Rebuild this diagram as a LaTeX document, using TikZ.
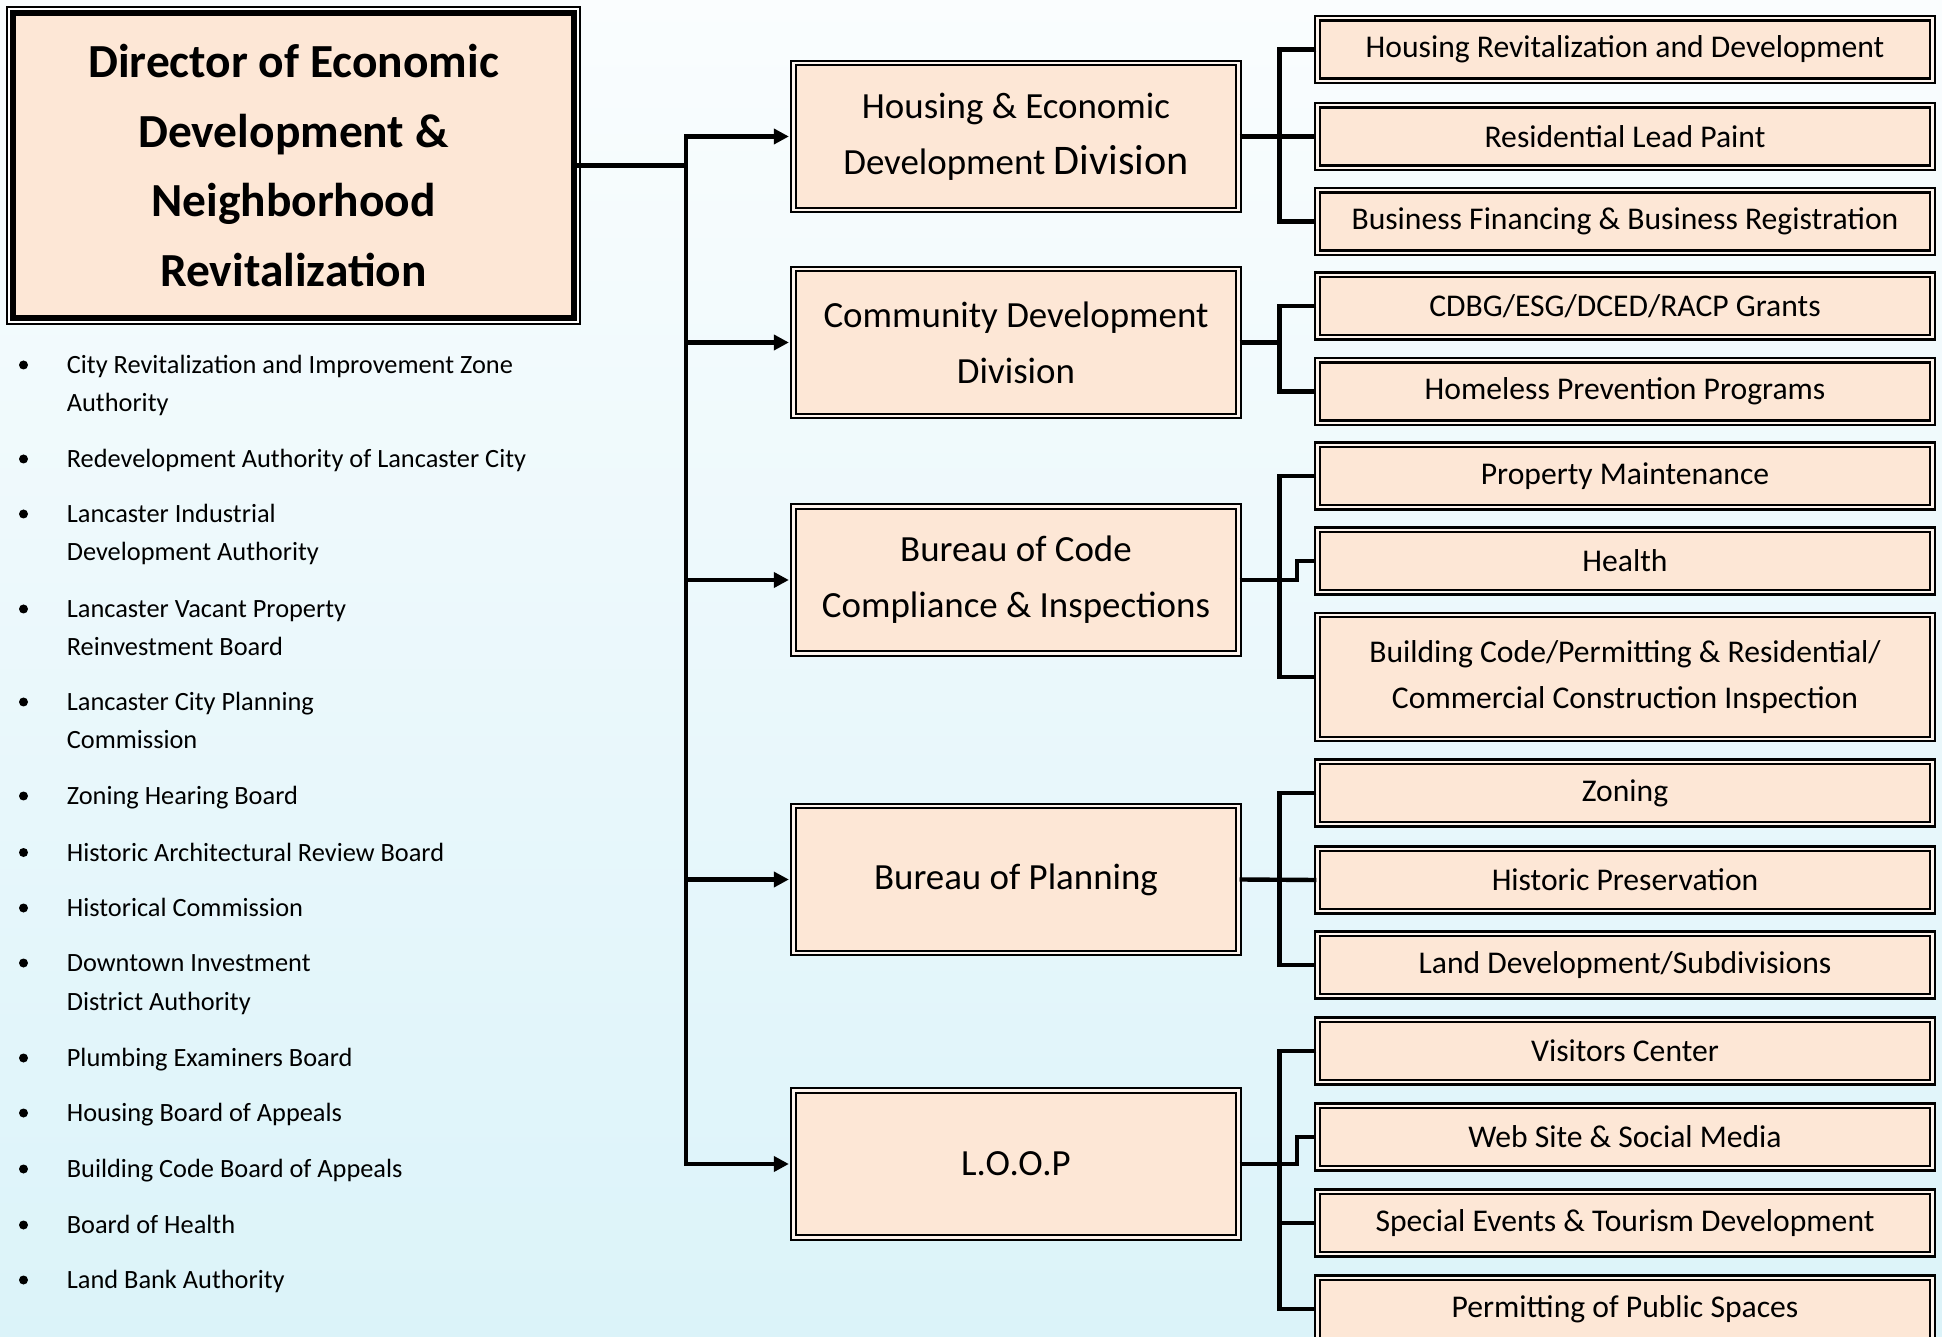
\documentclass[tikz,border=0pt]{standalone}
\usepackage{fontspec}
\setmainfont{Carlito}
\usetikzlibrary{arrows.meta}

\definecolor{skytop}{HTML}{FAFDFE}
\definecolor{skybottom}{HTML}{DBF3F9}
\definecolor{peach}{HTML}{FDE7D6}

\tikzset{
    unitbox/.style={draw, line width=1.3pt, double=peach!45!white, double distance=1.3pt,
        fill=peach, inner sep=0pt, align=center},
    divbox/.style={unitbox, minimum width=8.9cm, minimum height=2.94cm,
        font=\fontsize{21}{32}\selectfont},
    subbox/.style={unitbox, minimum width=12.3cm, minimum height=1.25cm,
        font=\fontsize{18}{26.5}\selectfont},
    dirbox/.style={draw, line width=3.4pt, fill=peach, inner sep=0pt, align=center,
        preaction={draw, line width=7.8pt}, preaction={draw=white, line width=5.6pt},
        minimum width=11.22cm, minimum height=6.1cm,
        font=\bfseries\fontsize{27}{39.6}\selectfont},
    link/.style={line width=2.5pt},
    arrow/.style={link, -{Triangle[length=0.3cm, width=0.3cm]}, shorten >=0.07cm},
    listtext/.style={anchor=base west, inner sep=0pt, font=\fontsize{15}{22}\selectfont}
}

\begin{document}
\begin{tikzpicture}[y=-1cm]
    % Background
    \useasboundingbox (0,0) rectangle (38.84,26.74);
    \shade[top color=skytop, bottom color=skybottom] (0,0) rectangle (38.84,26.74);

    % Director
    \node[dirbox] (dir) at (5.87,3.31) {Director of Economic\\Development \&\\Neighborhood\\Revitalization};

    % Divisions
    \node[divbox] (hed) at (20.32,2.73) {Housing \& Economic\\Development {\fontsize{24}{32}\selectfont Division}};
    \node[divbox] (cdd) at (20.32,6.85) {Community Development\\Division};
    \node[divbox] (code) at (20.32,11.6) {Bureau of Code\\Compliance \& Inspections};
    \node[divbox] (plan) at (20.32,17.59) {Bureau of Planning};
    \node[divbox] (loopdiv) at (20.32,23.28) {L.O.O.P};

    % Units under each division
    \foreach \name/\y/\txt in {hrd/0.99/{Housing Revitalization and Development},
        rlp/2.73/{Residential Lead Paint},
        bfr/4.43/{Business Financing \& Business Registration},
        grants/6.12/{CDBG/ESG/DCED/RACP Grants},
        homeless/7.83/{Homeless Prevention Programs},
        pm/9.52/{Property Maintenance},
        health/11.22/{Health},
        zoning/15.86/{Zoning},
        hp/17.6/{Historic Preservation},
        lds/19.3/{Land Development/Subdivisions},
        vc/21.02/{Visitors Center},
        ws/22.74/{Web Site \& Social Media},
        se/24.46/{Special Events \& Tourism Development},
        pps/26.18/{Permitting of Public Spaces}} {
        \node[subbox] (\name) at (32.5,\y) {\txt};
    }
    \node[subbox, minimum height=2.48cm] (bc) at (32.5,13.54) {Building Code/Permitting \& Residential/\\Commercial Construction Inspection};

    % Trunk from the director
    \coordinate (trunk) at (13.72,0);
    \draw[link] (dir.east) -- (dir.east -| trunk);
    \draw[link, line cap=rect] (trunk |- hed.west) -- (trunk |- loopdiv.west);
    \foreach \d in {hed, cdd, code, plan, loopdiv} {
        \draw[arrow] (trunk |- \d.west) -- (\d.west);
    }

    % Brackets to the units
    \foreach \d in {hed, cdd, code, plan, loopdiv} {
        \coordinate (\d fork) at ([xshift=0.8cm]\d.east);
    }
    \draw[link] (hrd.west) -| (hedfork) |- (bfr.west);
    \draw[link] (hed.east) -- (rlp.west);
    \draw[link] (grants.west) -| (cddfork) |- (homeless.west);
    \draw[link] (cdd.east) -- (cddfork);
    \draw[link] (pm.west) -| (codefork) |- (bc.west);
    \draw[link] (code.east) -- ++(1.15,0) |- (health.west);
    \draw[link] (zoning.west) -| (planfork) |- (lds.west);
    \draw[link] (plan.east) -- (hp.west);
    \draw[link] (vc.west) -| (loopdivfork) |- (pps.west);
    \draw[link] (loopdiv.east) -- ++(1.15,0) |- (ws.west);
    \draw[link] (loopdivfork |- se.west) -- (se.west);

    % Boards and authorities
    \foreach \y in {7.47, 9.35, 10.45, 12.35, 14.21, 16.09, 17.22, 18.33, 19.43, 21.33, 22.43, 23.55, 24.67, 25.77} {
        \fill (0.47,\y-0.17) circle (0.09);
    }
    \foreach \y/\txt [count=\i] in {7.47/{City Revitalization and Improvement Zone},
        8.24/{Authority},
        9.35/{Redevelopment Authority of Lancaster City},
        10.45/{Lancaster Industrial},
        11.22/{Development Authority},
        12.35/{Lancaster Vacant Property},
        13.11/{Reinvestment Board},
        14.21/{Lancaster City Planning},
        14.98/{Commission},
        16.09/{Zoning Hearing Board},
        17.22/{Historic Architectural Review Board},
        18.33/{Historical Commission},
        19.43/{Downtown Investment},
        20.2/{District Authority},
        21.33/{Plumbing Examiners Board},
        22.43/{Housing Board of Appeals},
        23.55/{Building Code Board of Appeals},
        24.67/{Board of Health},
        25.77/{Land Bank Authority}} {
        \node[listtext] (line\i) at (1.33,\y) {\txt};
    }
\end{tikzpicture}
\end{document}
